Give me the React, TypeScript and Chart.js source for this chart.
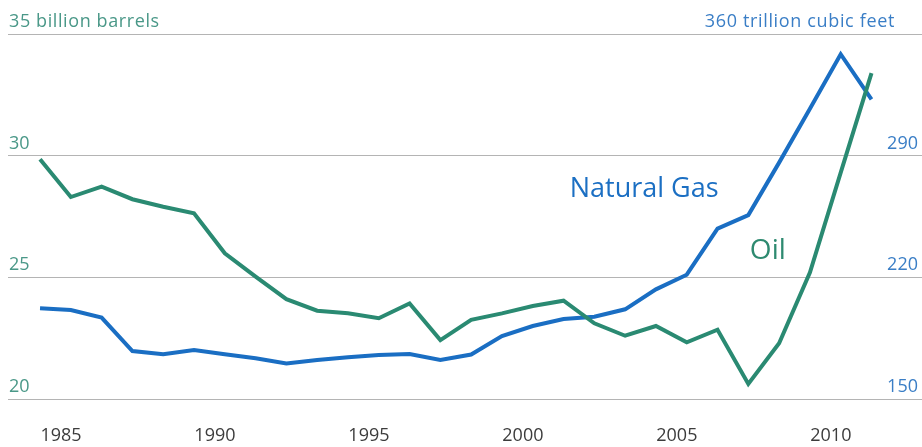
import { useEffect, useRef } from 'react';
import { Chart, registerables } from 'chart.js';

Chart.register(...registerables);

// ---- data ----
const years = [
  1984, 1985, 1986, 1987, 1988, 1989, 1990, 1991, 1992, 1993, 1994, 1995, 1996, 1997,
  1998, 1999, 2000, 2001, 2002, 2003, 2004, 2005, 2006, 2007, 2008, 2009, 2010, 2011,
];
// billion barrels (left axis)
const oilReserves = [
  29.85, 28.3, 28.73, 28.21, 27.9, 27.63, 25.99, 25.03, 24.1, 23.63, 23.52, 23.32, 23.93, 22.42,
  23.25, 23.52, 23.82, 24.04, 23.11, 22.6, 23.0, 22.33, 22.85, 20.62, 22.29, 25.2, 29.3, 33.39,
];
// trillion cubic feet (right axis)
const gasReserves = [
  202.2, 201.2, 196.8, 177.6, 175.7, 178.2, 175.7, 173.4, 170.5, 172.4, 174.0, 175.3, 175.9, 172.4,
  175.6, 186.2, 192.0, 196.0, 197.3, 201.6, 213.1, 221.5, 248.0, 255.8, 286.0, 317.0, 348.4, 322.4,
];
const yearTicks = [1985, 1990, 1995, 2000, 2005, 2010];
const oilTicks = [20, 25, 30, 35];
const gasTicks = [150, 220, 290, 360];
const oilUnit = 'billion barrels';
const gasUnit = 'trillion cubic feet';
const oilName = 'Oil';
const gasName = 'Natural Gas';

const FONT = '"Open Sans", "DejaVu Sans", sans-serif';
const OIL_COLOR = '#2a8a72';
const GAS_COLOR = '#1a6ec3';

const textPlugin = {
  id: 'textLabels',
  afterDatasetsDraw(chart: any) {
    const { ctx, chartArea, scales } = chart;
    const x = scales.x;
    const y = scales.y;
    const y1 = scales.y1;
    ctx.save();
    ctx.font = `18px ${FONT}`;
    ctx.textBaseline = 'alphabetic';

    // left axis labels
    ctx.fillStyle = '#4a9888';
    ctx.textAlign = 'left';
    y.ticks.forEach((t: any, i: number) => {
      const py = y.getPixelForValue(t.value);
      const top = i === y.ticks.length - 1;
      (ctx as any).letterSpacing = top ? '0.6px' : '0px';
      const txt = top ? `${t.value} ${oilUnit}` : String(t.value);
      ctx.fillText(txt, chartArea.left + 1, py - 7);
    });

    // right axis labels
    ctx.fillStyle = '#3a7ec6';
    ctx.textAlign = 'right';
    y1.ticks.forEach((t: any, i: number) => {
      const py = y1.getPixelForValue(t.value);
      const top = i === y1.ticks.length - 1;
      (ctx as any).letterSpacing = top ? '0.65px' : '0px';
      const txt = top ? `${t.value} ${gasUnit}` : String(t.value);
      ctx.fillText(txt, chartArea.right - (top ? 27 : 4), py - 7);
    });
    (ctx as any).letterSpacing = '0px';

    // series labels
    ctx.textAlign = 'left';
    ctx.font = `27px ${FONT}`;
    ctx.fillStyle = '#1b6fc3';
    ctx.fillText(gasName, x.getPixelForValue(2001.2), y1.getPixelForValue(266.2));
    ctx.font = `28px ${FONT}`;
    ctx.fillStyle = '#2e8a70';
    ctx.fillText(oilName, x.getPixelForValue(2007.05), y.getPixelForValue(25.74));
    ctx.restore();
  },
};

export default function App() {
  const canvasRef = useRef<HTMLCanvasElement | null>(null);

  useEffect(() => {
    if (!canvasRef.current) return;
    const chart = new Chart(canvasRef.current, {
      type: 'line',
      data: {
        datasets: [
          {
            label: oilName,
            data: years.map((yr, i) => ({ x: yr, y: oilReserves[i] })),
            borderColor: OIL_COLOR,
            borderWidth: 4,
            pointRadius: 0,
            tension: 0,
            yAxisID: 'y',
          },
          {
            label: gasName,
            data: years.map((yr, i) => ({ x: yr, y: gasReserves[i] })),
            borderColor: GAS_COLOR,
            borderWidth: 4,
            pointRadius: 0,
            tension: 0,
            yAxisID: 'y1',
          },
        ],
      },
      options: {
        animation: false,
        responsive: true,
        maintainAspectRatio: false,
        layout: { padding: { left: 8, right: 0, top: 34, bottom: 0 } },
        plugins: {
          legend: { display: false },
          tooltip: { enabled: false },
        },
        scales: {
          x: {
            type: 'linear',
            min: 1982.96,
            max: 2012.64,
            grid: { display: false, drawTicks: false },
            border: { display: false },
            afterBuildTicks: (scale: any) => {
              scale.ticks = yearTicks.map((v) => ({ value: v - 0.32 }));
            },
            afterFit: (scale: any) => {
              scale.height = 48;
            },
            ticks: {
              autoSkip: false,
              maxRotation: 0,
              padding: 26,
              color: '#3c3c3c',
              font: { family: FONT, size: 18 },
              callback: (v: any) => String(Math.round(Number(v))),
            },
          },
          y: {
            position: 'left',
            min: 20,
            max: 35,
            afterBuildTicks: (scale: any) => {
              scale.ticks = oilTicks.map((v) => ({ value: v }));
            },
            ticks: { display: false },
            grid: { color: '#b4b4b4', lineWidth: 1, drawTicks: false },
            border: { display: false },
          },
          y1: {
            position: 'right',
            display: false,
            min: 150,
            max: 360,
            afterBuildTicks: (scale: any) => {
              scale.ticks = gasTicks.map((v) => ({ value: v }));
            },
            grid: { display: false },
          },
        },
      },
      plugins: [textPlugin],
    });
    return () => chart.destroy();
  }, []);

  return (
    <div style={{ position: 'absolute', left: 0, top: 0, width: 922, height: 447 }}>
      <canvas ref={canvasRef} />
    </div>
  );
}
